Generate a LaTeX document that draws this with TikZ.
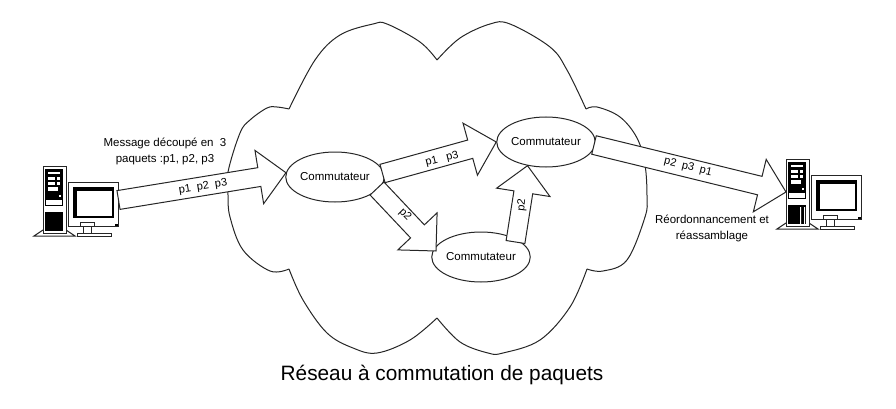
\documentclass[tikz,border=0pt]{standalone}
\usepackage{fontspec}
\setmainfont{Liberation Sans}
\usetikzlibrary{calc,shapes.geometric}

\tikzset{
  inkline/.style={draw=black!85,line width=1pt},
  cloudline/.style={inkline,line join=round},
  switch/.style={ellipse,inkline,fill=white,minimum width=94pt,minimum height=50pt,inner sep=0pt,font=\fontsize{11.5}{14}\selectfont},
  small/.style={font=\fontsize{11.5}{16}\selectfont,align=center,inner sep=0pt},
  packets/.style={font=\fontsize{11}{13}\selectfont,inner sep=0pt},
  blockarrow/.style={inkline,fill=white,line join=miter,to path={
      ($(\tikztotarget)!27pt!(\tikztostart)$) coordinate (neck)
      ($(\tikztostart)!9.5pt!90:(\tikztotarget)$)
      -- ($(neck)!9.5pt!90:(\tikztotarget)$)
      -- ($(neck)!27pt!90:(\tikztotarget)$)
      -- (\tikztotarget)
      -- ($(neck)!27pt!-90:(\tikztotarget)$)
      -- ($(neck)!9.5pt!-90:(\tikztotarget)$)
      -- ($(\tikztostart)!9.5pt!-90:(\tikztotarget)$)
      -- cycle}},
  workstation/.pic={
    \draw[inkline,fill=white] (-9,70) -- (0,64) -- (23,64) -- (32,70) -- cycle;
    \draw[inkline,fill=white] (0,0) rectangle (23,67);
    \fill[black] (2,3) rectangle (20,40);
    \fill[white] (5,6) rectangle (17,8);
    \fill[white] (5,11) rectangle (12,14);
    \fill[white] (14,11) rectangle (17,14);
    \fill[white] (5,16) rectangle (12,19);
    \fill[white] (14,16) rectangle (17,19);
    \fill[white] (5,21) rectangle (15,25);
    \fill[white] (16,29) rectangle (18,31);
    \fill[white] (3,34) rectangle (19,39);
    \fill[black] (2,46) rectangle (20,65);
    \draw[inkline,fill=white] (25,16) rectangle (75,60);
    \fill[black] (30,21) rectangle (71,52);
    \fill[white] (34,25) rectangle (69,50);
    \fill[black] (72,58) rectangle (75,60);
    \draw[inkline,fill=white] (37,56) rectangle (51,60);
    \draw[inkline] (40,60) -- (40,67) (48,60) -- (48,67);
    \draw[inkline,fill=white] (34,67) rectangle (68,70);
  },
}

\begin{document}
\begin{tikzpicture}[x=1pt,y=-1pt]
  \useasboundingbox (0,0) rectangle (896,409);

  \draw[cloudline] plot[smooth,tension=.6] coordinates {(289,109) (277,107) (267,108) (250,120) (240,133) (228,172) (228,195) (230,217) (243,250) (270,271) (289,269)};
  \draw[cloudline] plot[smooth,tension=.6] coordinates {(289,109) (315,60) (340,35) (373,24) (387,24) (420,42) (437,60)};
  \draw[cloudline] plot[smooth,tension=.6] coordinates {(437,60) (460,38) (490,24) (510,24) (550,47) (567,70) (586,109)};
  \draw[cloudline] plot[smooth,tension=.6] coordinates {(586,109) (597,107) (620,117) (637,138) (645,165) (647,197) (645,217) (627,260) (603,271) (587,269)};
  \draw[cloudline] plot[smooth,tension=.6] coordinates {(587,269) (570,307) (540,340) (503,353) (488,353) (460,342) (437,318)};
  \draw[cloudline] plot[smooth,tension=.6] coordinates {(437,318) (410,340) (377,353) (353,348) (327,333) (303,300) (289,269)};

  \pic at (43,166) {workstation};
  \pic at (786,159) {workstation};
  \fill[white] (800,207) rectangle (801,224) (804,207) rectangle (805,224);
  \coordinate (source) at (118.5,200);
  \coordinate (target) at (786,192);
  \coordinate (tailright) at (594,145);
  \coordinate (tailleft) at (382.5,173.5);
  \coordinate (taildown) at (377,188.5);
  \coordinate (tailup) at (515.5,242);
  \coordinate (tipdown) at (436,251);

  \node[switch] (swA) at (335,177) {Commutateur};
  \node[switch] (swB) at (546,142) {Commutateur};
  \node[switch] (swC) at (481,257) {Commutateur};

  \draw[blockarrow] (source) to (swA.175);
  \draw[blockarrow] (tailleft) to (swB.west);
  \draw[blockarrow] (taildown) to (tipdown);
  \draw[blockarrow] (tailup) to (swB.232);
  \draw[blockarrow] (tailright) to (target);

  \node[packets,rotate=9] (labA) at (203,187) {p1\ \ p2\ \ p3};
  \node[packets,rotate=14] (labB) at (442,159) {p1\ \ \ p3};
  \node[packets,rotate=-45] (labC) at (405,215) {p2};
  \node[packets,rotate=84] (labD) at (522,205) {p2};
  \node[packets,rotate=-14] (labE) at (688,167) {p2\ \ p3\ \ p1};

  \node[small] (msg) at (165,151) {Message découpé en\ \ 3\\paquets :p1, p2, p3};
  \node[small] (reorder) at (712,228) {Réordonnancement et\\réassamblage};
  \node[font=\fontsize{20.8}{24}\selectfont,inner sep=0pt] (caption) at (442,375) {Réseau à commutation de paquets};
\end{tikzpicture}
\end{document}
